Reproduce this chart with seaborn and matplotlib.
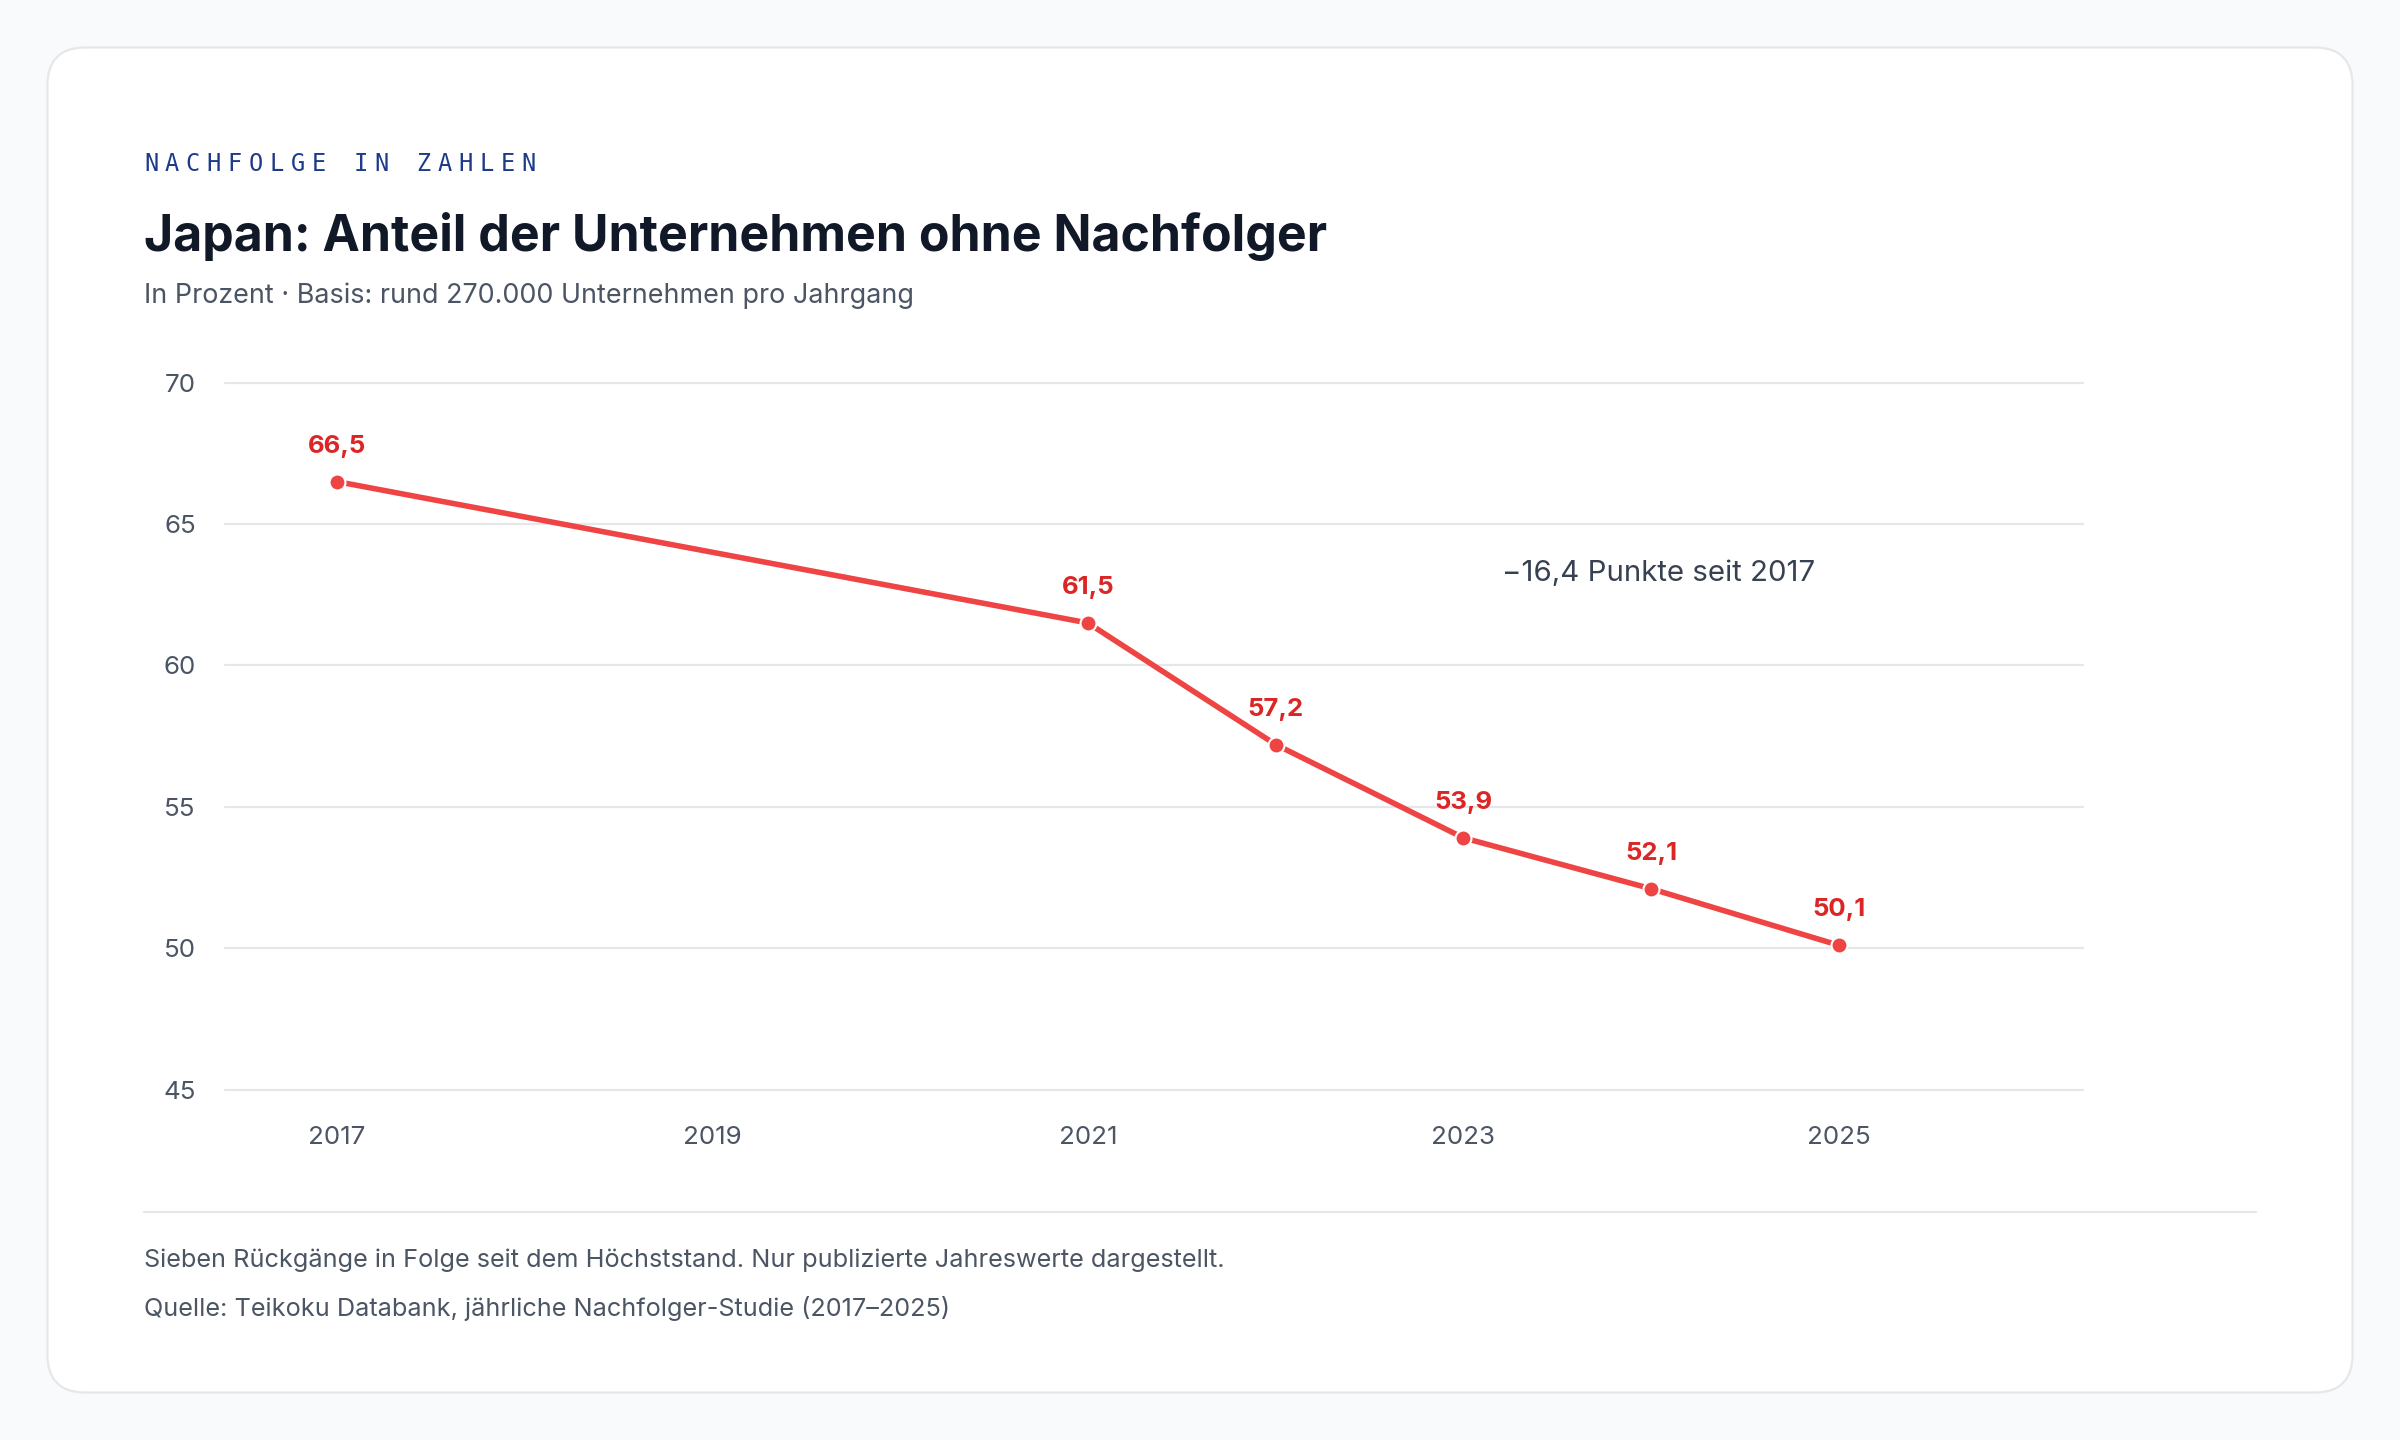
import matplotlib
matplotlib.use("Agg")
import matplotlib.pyplot as plt
import seaborn as sns
import pandas as pd
from matplotlib.patches import FancyBboxPatch
from matplotlib.lines import Line2D

# ------------------
# Data
# ------------------
years = [2017, 2021, 2022, 2023, 2024, 2025]
share = [66.5, 61.5, 57.2, 53.9, 52.1, 50.1]
labels = ["66,5", "61,5", "57,2", "53,9", "52,1", "50,1"]
x_ticks = [2017, 2019, 2021, 2023, 2025]
y_ticks = [45, 50, 55, 60, 65, 70]

kicker = "NACHFOLGE IN ZAHLEN"
title = "Japan: Anteil der Unternehmen ohne Nachfolger"
subtitle = "In Prozent · Basis: rund 270.000 Unternehmen pro Jahrgang"
note = "−16,4 Punkte seit 2017"
footer_1 = "Sieben Rückgänge in Folge seit dem Höchststand. Nur publizierte Jahreswerte dargestellt."
footer_2 = "Quelle: Teikoku Databank, jährliche Nachfolger-Studie (2017–2025)"

df = pd.DataFrame({"year": years, "share": share})

# colours
BG = "#f8fafc"
CARD_EDGE = "#e5e7eb"
GRID = "#e5e7eb"
RED = "#ef4444"
RED_TXT = "#dc2626"
INK = "#111827"
MUTED = "#4b5563"
BLUE = "#1e3a8a"

sns.set_theme(style="white")
plt.rcParams['font.family'] = ['Inter', 'DejaVu Sans']

W, H = 1568, 941  # layout grid used for positioning (scaled to 2400x1440)


def fx(px):
    return px / W


def fy(py):
    return 1 - py / H


fig = plt.figure(figsize=(24, 14.4), dpi=100, facecolor=BG)

# card background
card = FancyBboxPatch((31 / W * 24, (H - 910) / H * 14.4),
                      (1537 - 31) / W * 24, (910 - 31) / H * 14.4,
                      boxstyle="round,pad=0,rounding_size=0.38",
                      transform=fig.dpi_scale_trans,
                      facecolor="white", edgecolor=CARD_EDGE, linewidth=1.6, zorder=-5)
fig.patches.append(card)

ax = fig.add_axes([fx(147), fy(712), fx(1361) - fx(147), fy(250) - fy(712)])
ax.set_facecolor("none")
ax.set_zorder(2)

sns.lineplot(data=df, x="year", y="share", ax=ax, color=RED, linewidth=4,
             marker="o", markersize=11.5, markeredgecolor="white",
             markeredgewidth=1.5, zorder=3)

for x, y, lab in zip(years, share, labels):
    ax.annotate(lab, (x, y), xytext=(0, 25.5), textcoords="offset points",
                ha="center", va="center", fontsize=18.5, fontweight="bold",
                color=RED_TXT, zorder=4)

ax.set_xlim(2016.405, 2026.3)
ax.set_ylim(45, 70)
ax.set_xticks(x_ticks)
ax.set_yticks(y_ticks)
ax.set_xlabel("")
ax.set_ylabel("")
ax.tick_params(axis="both", length=0, labelsize=18.7, labelcolor=MUTED)
ax.tick_params(axis="x", pad=26.5)
ax.tick_params(axis="y", pad=21)
for s in ax.spines.values():
    s.set_visible(False)
ax.grid(axis="y", color=GRID, linewidth=1.6)
ax.grid(axis="x", visible=False)
ax.set_axisbelow(True)
for gl in ax.get_ygridlines():
    gl.set_clip_on(False)

ax.text(fx(981 - 147) / fx(1214), (712 - 375) / 462, note, transform=ax.transAxes,
        ha="left", va="center", fontsize=21.2, color="#374151")

# header texts
step = 13.7
for i, ch in enumerate(kicker):
    fig.text(fx(94 + i * step), fy(112), ch, ha="left", va="baseline",
             fontsize=17, color=BLUE, family="DejaVu Sans Mono")

fig.text(fx(94), fy(164), title, ha="left", va="baseline", fontsize=36,
         fontweight="bold", color=INK)
fig.text(fx(94), fy(198), subtitle, ha="left", va="baseline", fontsize=19.4,
         color=MUTED)

# separator and footer
fig.add_artist(Line2D([fx(94), fx(1474)], [fy(792), fy(792)], color=GRID,
                      linewidth=1.6, transform=fig.transFigure))
fig.text(fx(94), fy(828), footer_1, ha="left", va="baseline", fontsize=18.2,
         color=MUTED)
fig.text(fx(94), fy(860), footer_2, ha="left", va="baseline", fontsize=18.2,
         color=MUTED)

fig.savefig("out.png", dpi=100, facecolor=BG)
